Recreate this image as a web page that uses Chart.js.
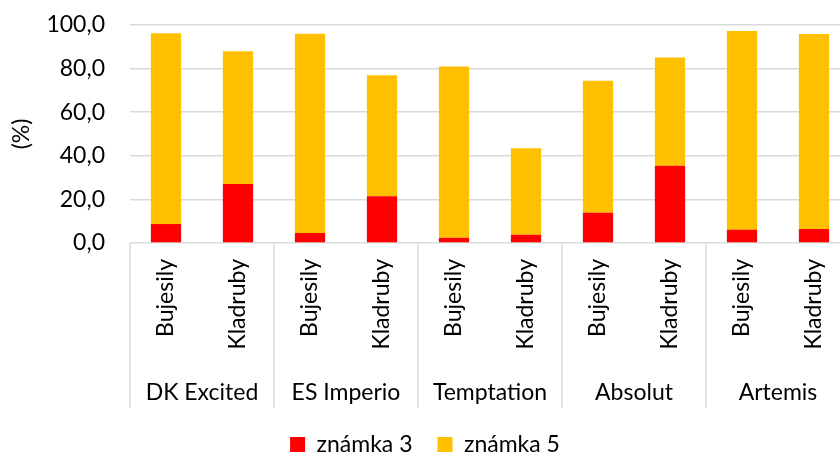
<!DOCTYPE html>
<html>
<head>
<meta charset="utf-8">
<script src="https://cdn.jsdelivr.net/npm/chart.js@4/dist/chart.umd.min.js"></script>
<style>
    html, body { margin: 0; padding: 0; background: #fff; overflow: hidden; }
    #wrap { width: 860px; height: 457px; }
</style>
</head>
<body>
<div id="wrap"><canvas id="chart"></canvas></div>
<script>
// Données du graphique
const locations = ['Bujesily', 'Kladruby', 'Bujesily', 'Kladruby', 'Bujesily', 'Kladruby', 'Bujesily', 'Kladruby', 'Bujesily', 'Kladruby'];
const varieties = ['DK Excited', 'ES Imperio', 'Temptation', 'Absolut', 'Artemis'];
const grade3 = [8.7, 27.1, 4.6, 21.4, 2.4, 3.8, 13.9, 35.4, 6.1, 6.4];
const grade5 = [87.5, 60.9, 91.4, 55.6, 78.6, 39.7, 60.5, 49.7, 91.1, 89.5];
const yTicks = [0, 20, 40, 60, 80, 100];

const FONT = 'Lato, "Open Sans", sans-serif';
const FSIZE = 23;
const GRID = '#d9d9d9';

// Plugin pour l'axe à deux niveaux (séparateurs + noms de variétés)
const groupAxis = {
    id: 'groupAxis',
    afterDraw(chart) {
        const ctx = chart.ctx;
        const x = chart.scales.x;
        const area = chart.chartArea;
        const top = area.bottom;
        const bottom = top + 165;
        const step = x.getPixelForValue(1) - x.getPixelForValue(0);
        ctx.save();
        ctx.strokeStyle = GRID;
        ctx.lineWidth = 1.5;
        for (let g = 0; g <= varieties.length; g++) {
            const px = x.getPixelForValue(g * 2) - step / 2;
            ctx.beginPath();
            ctx.moveTo(px, top);
            ctx.lineTo(px, bottom);
            ctx.stroke();
        }
        ctx.fillStyle = '#000';
        ctx.font = FSIZE + 'px ' + FONT;
        ctx.textAlign = 'center';
        ctx.textBaseline = 'middle';
        varieties.forEach((name, g) => {
            const cx = (x.getPixelForValue(g * 2) + x.getPixelForValue(g * 2 + 1)) / 2;
            ctx.fillText(name, cx, top + 150);
        });
        ctx.restore();
    }
};

new Chart(document.getElementById('chart'), {
    type: 'bar',
    data: {
        labels: locations,
        datasets: [
            { label: 'známka 3', data: grade3, backgroundColor: '#ff0000', borderWidth: 0 },
            { label: 'známka 5', data: grade5, backgroundColor: '#ffc000', borderWidth: 0 }
        ]
    },
    options: {
        responsive: true,
        maintainAspectRatio: false,
        animation: false,
        datasets: { bar: { categoryPercentage: 1, barPercentage: 0.42 } },
        layout: { padding: { top: 25, left: 0, right: 10, bottom: -9 } },
        scales: {
            x: {
                stacked: true,
                grid: { display: false },
                border: { display: false },
                ticks: {
                    color: '#000',
                    font: { family: FONT, size: FSIZE },
                    minRotation: 90,
                    maxRotation: 90,
                    padding: 8
                },
                afterFit(scale) { scale.height = 165; }
            },
            y: {
                stacked: true,
                min: 0,
                max: 100,
                afterBuildTicks(scale) { scale.ticks = yTicks.map(v => ({ value: v })); },
                grid: { color: GRID, lineWidth: 1.5, drawTicks: false },
                border: { display: false },
                ticks: {
                    color: '#000',
                    font: { family: FONT, size: FSIZE },
                    padding: 25,
                    callback: v => v.toFixed(1).replace('.', ',')
                },
                title: {
                    display: true,
                    text: '(%)',
                    color: '#000',
                    font: { family: FONT, size: FSIZE },
                    padding: { top: 8, bottom: 0 }
                },
                afterFit(scale) {
                    scale.width = 130;
                    scale.paddingTop = 0;
                    scale.paddingBottom = 0;
                }
            }
        },
        plugins: {
            legend: {
                position: 'bottom',
                labels: {
                    color: '#000',
                    font: { family: FONT, size: FSIZE },
                    boxWidth: 15,
                    boxHeight: 15,
                    padding: 25
                }
            },
            tooltip: { enabled: false }
        }
    },
    plugins: [groupAxis]
});
</script>
</body>
</html>
